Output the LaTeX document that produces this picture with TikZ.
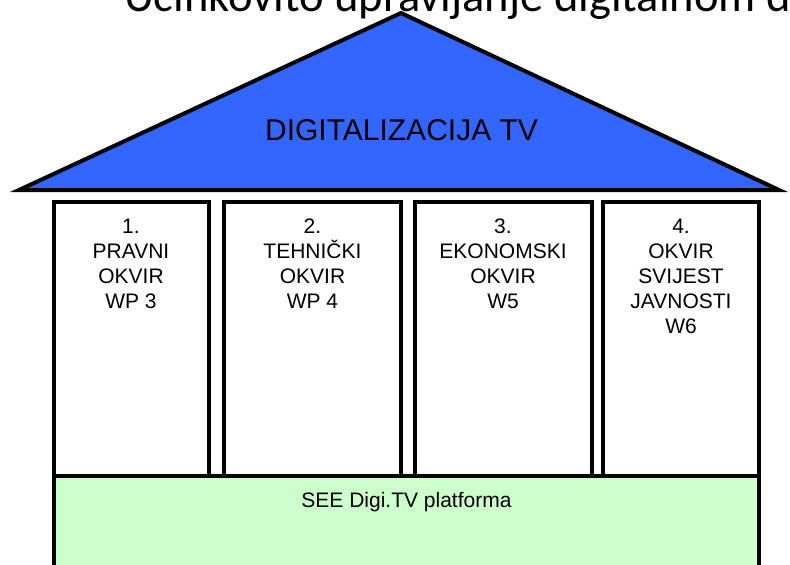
\documentclass[tikz,border=0pt]{standalone}
\usepackage{fontspec}
\setmainfont{Liberation Sans}
\newfontfamily\titlefont{Carlito}
\usepackage{tikz}
\usetikzlibrary{arrows,shapes}
\definecolor{roofblue}{HTML}{3366FF}
\definecolor{basegreen}{HTML}{CCFFCC}

\begin{document}
\begin{tikzpicture}[x=1pt,y=-1pt,line width=4pt]
  \tikzstyle{every node}=[inner sep=0pt,text=black]
  \tikzstyle{pillar}=[draw=black,fill=white]
  \tikzstyle{pillartext}=[anchor=north,align=center,font=\fontsize{21}{25}\selectfont]
  \useasboundingbox (0,0) rectangle (790,565);

  \coordinate (ROOFL) at (19,190);
  \coordinate (APEX)  at (401,13);
  \coordinate (ROOFR) at (779,190);

  \node[anchor=base west,font=\titlefont\fontsize{46.5}{56}\selectfont] (TITLE) at (122,11) {Učinkovito upravljanje digitalnom d};

  \draw[fill=roofblue] (ROOFL) -- (APEX) -- (ROOFR) -- cycle;
  \node[anchor=base,font=\fontsize{30}{36}\selectfont] (ROOF) at (401.5,140) {DIGITALIZACIJA TV};

  \fill[basegreen] (54,475.5) rectangle (759,575);
  \draw (54,575) -- (54,475.5) -- (759,475.5) -- (759,575);
  \node[anchor=base,font=\fontsize{21}{25}\selectfont] (BASE) at (406.5,507) {SEE Digi.TV platforma};

  \draw[pillar] (54,202)  rectangle (208.5,475.5);
  \draw[pillar] (224,202) rectangle (401,475.5);
  \draw[pillar] (415,202) rectangle (591.5,475.5);
  \draw[pillar] (603,202) rectangle (759,475.5);

  \node[pillartext] (PRAVNI)    at (131,217)   {1.\\PRAVNI\\OKVIR\\WP 3};
  \node[pillartext] (TEHNICKI)  at (312.5,217) {2.\\TEHNIČKI\\OKVIR\\WP 4};
  \node[pillartext] (EKONOMSKI) at (503,217)   {3.\\EKONOMSKI\\OKVIR\\W5};
  \node[pillartext] (JAVNOST)   at (681,217)   {4.\\OKVIR\\SVIJEST\\JAVNOSTI\\W6};
\end{tikzpicture}
\end{document}
